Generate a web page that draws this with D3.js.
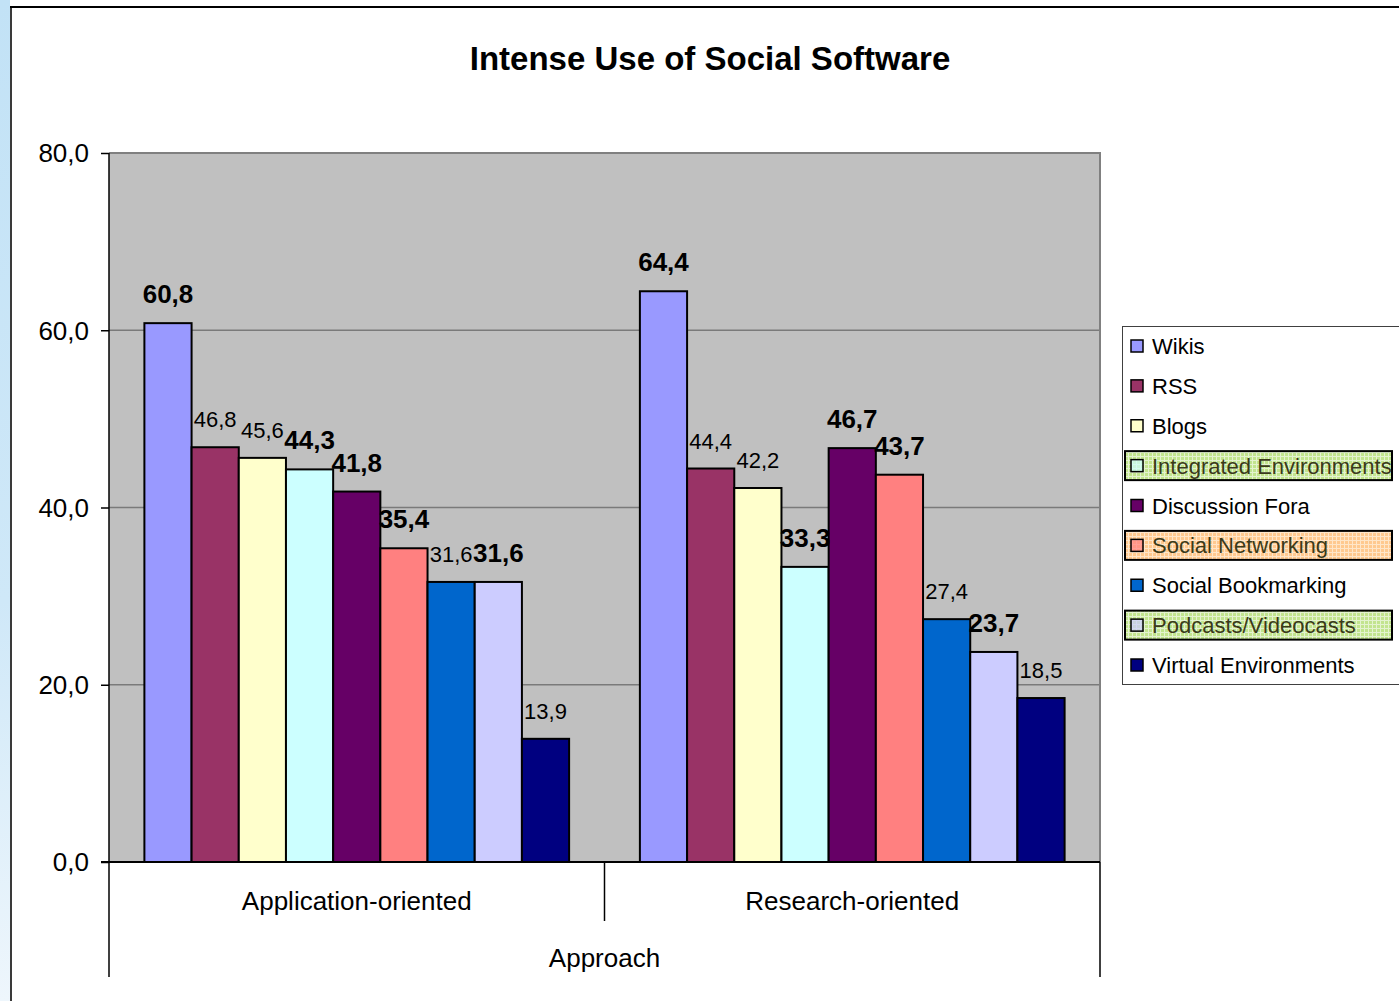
<!DOCTYPE html>
<html><head><meta charset="utf-8">
<script src="https://cdn.jsdelivr.net/npm/d3@7"></script>
<style>body{margin:0;background:#fff;}svg{display:block;font-family:"Liberation Sans",Arial,sans-serif;}</style>
</head><body>
<script>
const categories = ["Application-oriented", "Research-oriented"];
const series = ["Wikis","RSS","Blogs","Integrated Environments","Discussion Fora","Social Networking","Social Bookmarking","Podcasts/Videocasts","Virtual Environments"];
const colors = ["#9999FF","#993366","#FFFFCC","#CCFFFF","#660066","#FF8080","#0066CC","#CCCCFF","#000080"];
const appValues = [60.8,46.8,45.6,44.3,41.8,35.4,31.6,31.6,13.9];
const resValues = [64.4,44.4,42.2,33.3,46.7,43.7,27.4,23.7,18.5];
const appBold = [true,false,false,true,true,true,false,true,false];
const resBold = [true,false,false,true,true,true,false,true,false];
const yTicks = [0,20,40,60,80];
const highlighted = {"Integrated Environments":"green","Social Networking":"orange","Podcasts/Videocasts":"green"};
const title = "Intense Use of Social Software";
const axisTitle = "Approach";

const W=1399,H=1001;
const svg=d3.select("body").append("svg").attr("width",W).attr("height",H);
const defs=svg.append("defs");
const grad=defs.append("linearGradient").attr("id","strip").attr("x1",0).attr("y1",0).attr("x2",0).attr("y2",1);
grad.append("stop").attr("offset","0%").attr("stop-color","#c2e2f6");
grad.append("stop").attr("offset","60%").attr("stop-color","#cfe8f8");
grad.append("stop").attr("offset","100%").attr("stop-color","#eef6fc");
function pat(id,base,line){
  const p=defs.append("pattern").attr("id",id).attr("width",4).attr("height",4).attr("patternUnits","userSpaceOnUse");
  p.append("rect").attr("width",4).attr("height",4).attr("fill",base);
  p.append("rect").attr("width",4).attr("height",1).attr("fill",line);
  p.append("rect").attr("width",1).attr("height",4).attr("fill",line);
}
pat("green","#c2e48e","#e4f3cf");
pat("orange","#ffc98f","#ffe6c9");

svg.append("rect").attr("x",0).attr("y",0).attr("width",10).attr("height",H).attr("fill","url(#strip)");
svg.append("line").attr("x1",11).attr("x2",11).attr("y1",6).attr("y2",H).attr("stroke","#3a3a3a").attr("stroke-width",2);
svg.append("line").attr("x1",10).attr("x2",W).attr("y1",7).attr("y2",7).attr("stroke","#000").attr("stroke-width",2);

const L=109,R=1100,T=153,B=862;
const y=d3.scaleLinear().domain([0,80]).range([B,T]);
const x0=d3.scaleBand().domain(categories).range([L,R]).padding(0);
const x1=d3.scaleBand().domain(series).range([0,x0.bandwidth()]).paddingInner(0).paddingOuter(0.75);

svg.append("rect").attr("x",L).attr("y",T).attr("width",R-L).attr("height",B-T).attr("fill","#C0C0C0");
svg.append("g").selectAll("line").data(yTicks.filter(d=>d>0&&d<80)).join("line")
  .attr("x1",L).attr("x2",R).attr("y1",d=>y(d)).attr("y2",d=>y(d)).attr("stroke","#7a7a7a").attr("stroke-width",1.5);
svg.append("path").attr("d",`M${L},${T}H${R}V${B}`).attr("fill","none").attr("stroke","#808080").attr("stroke-width",2);

const data=[appValues,resValues];
const bolds=[appBold,resBold];
categories.forEach((c,ci)=>{
  const g=svg.append("g").attr("transform",`translate(${x0(c)},0)`);
  g.selectAll("rect").data(series).join("rect")
    .attr("x",s=>x1(s)).attr("y",(s,i)=>y(data[ci][i]))
    .attr("width",x1.bandwidth()).attr("height",(s,i)=>B-y(data[ci][i]))
    .attr("fill",(s,i)=>colors[i]).attr("stroke","#000").attr("stroke-width",2);
  g.selectAll("text").data(series).join("text")
    .attr("x",s=>x1(s)+x1.bandwidth()/2).attr("y",(s,i)=>y(data[ci][i])-20)
    .attr("text-anchor","middle")
    .attr("font-size",(s,i)=>bolds[ci][i]?26:22)
    .attr("font-weight",(s,i)=>bolds[ci][i]?"bold":"normal")
    .attr("fill","#000")
    .text((s,i)=>d3.format(".1f")(data[ci][i]).replace(".",","));
});

// y axis
const yAxis=d3.axisLeft(y).tickValues(yTicks).tickSize(8).tickPadding(12).tickFormat(d=>d3.format(".1f")(d).replace(".",","));
const ga=svg.append("g").attr("transform",`translate(${L},0)`).call(yAxis);
ga.select(".domain").remove();
ga.selectAll(".tick line").attr("stroke","#000").attr("stroke-width",1.5);
ga.selectAll(".tick text").attr("font-size",26).attr("font-family","Liberation Sans, Arial, sans-serif").attr("fill","#000").attr("dy","0.34em");
svg.append("line").attr("x1",L).attr("x2",L).attr("y1",T).attr("y2",977).attr("stroke","#000").attr("stroke-width",1.5);
svg.append("line").attr("x1",101).attr("x2",R).attr("y1",B).attr("y2",B).attr("stroke","#000").attr("stroke-width",2);
svg.append("line").attr("x1",x0(categories[1])).attr("x2",x0(categories[1])).attr("y1",B).attr("y2",921).attr("stroke","#000").attr("stroke-width",1.5);
svg.append("line").attr("x1",R).attr("x2",R).attr("y1",B).attr("y2",977).attr("stroke","#000").attr("stroke-width",1.5);
svg.append("g").selectAll("text").data(categories).join("text")
  .attr("x",c=>x0(c)+x0.bandwidth()/2).attr("y",910).attr("text-anchor","middle").attr("font-size",26).text(c=>c);
svg.append("text").attr("x",(L+R)/2).attr("y",967).attr("text-anchor","middle").attr("font-size",26).text(axisTitle);

svg.append("text").attr("x",710).attr("y",70).attr("text-anchor","middle").attr("font-size",33).attr("font-weight","bold").text(title);

// legend
svg.append("rect").attr("x",1122.5).attr("y",326.5).attr("width",300).attr("height",358).attr("fill","#fff").attr("stroke","#404040").attr("stroke-width",1);
const ly=d3.scalePoint().domain(series).range([346,665]);
const lg=svg.append("g");
series.forEach((s,i)=>{
  const cy=ly(s);
  if(highlighted[s]){
    lg.append("rect").attr("x",1125).attr("y",cy-14.5).attr("width",267).attr("height",29)
      .attr("fill",`url(#${highlighted[s]})`).attr("stroke","#000").attr("stroke-width",2);
  }
  lg.append("rect").attr("x",1131).attr("y",cy-6).attr("width",12).attr("height",12)
    .attr("fill",colors[i]).attr("stroke","#000").attr("stroke-width",1.5).attr("fill-opacity",highlighted[s]?0.7:1);
  lg.append("text").attr("x",1152).attr("y",cy+8).attr("font-size",22).attr("fill",highlighted[s]?"#3a3a1a":"#000").text(s);
});
</script>
</body></html>
